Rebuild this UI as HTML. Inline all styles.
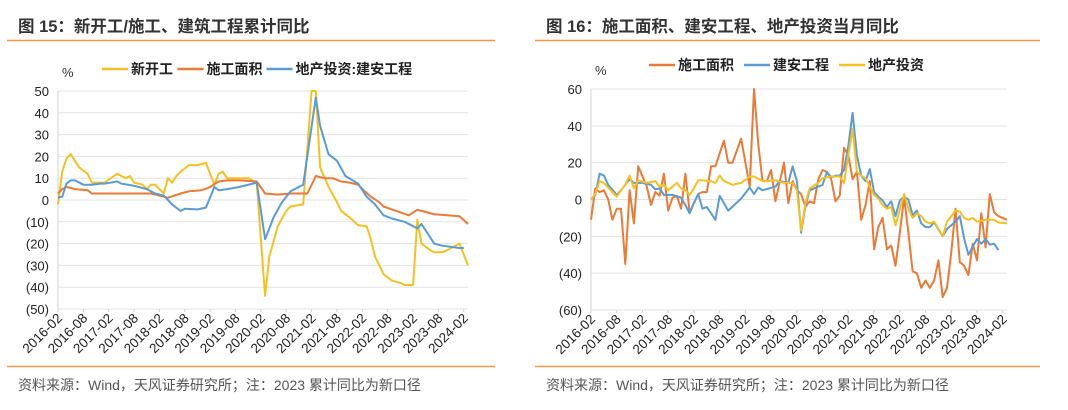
<!DOCTYPE html>
<html><head><meta charset="utf-8">
<style>
body{margin:0;width:1068px;height:410px;background:#fff;overflow:hidden;font-family:"Liberation Sans","Noto Sans CJK SC",sans-serif;}
svg{position:absolute;left:0;top:0;}
</style></head>
<body>
<svg id="main" width="1068" height="410" xmlns="http://www.w3.org/2000/svg">
<g>
<text x="18" y="32" font-size="16.5" font-weight="bold" fill="#333" font-family="Liberation Sans, Noto Sans CJK SC, sans-serif">图 15：新开工/施工、建筑工程累计同比</text>
<line x1="7" y1="40.5" x2="495" y2="40.5" stroke="#f39a4a" stroke-width="1.5"/>
<line x1="7" y1="366.5" x2="495" y2="366.5" stroke="#f39a4a" stroke-width="1.5"/>
<text x="18" y="390" font-size="14" fill="#555" font-family="Liberation Sans, Noto Sans CJK SC, sans-serif">资料来源：Wind，天风证券研究所；注：2023 累计同比为新口径</text>
</g>
<g>
<text x="546" y="32" font-size="16.5" font-weight="bold" fill="#333" font-family="Liberation Sans, Noto Sans CJK SC, sans-serif">图 16：施工面积、建安工程、地产投资当月同比</text>
<line x1="535" y1="40.5" x2="1040" y2="40.5" stroke="#f39a4a" stroke-width="1.5"/>
<line x1="535" y1="366.5" x2="1040" y2="366.5" stroke="#f39a4a" stroke-width="1.5"/>
<text x="546" y="390" font-size="14" fill="#555" font-family="Liberation Sans, Noto Sans CJK SC, sans-serif">资料来源：Wind，天风证券研究所；注：2023 累计同比为新口径</text>
</g>
<g id="leftChart"></g>
<g id="rightChart"></g>
</svg>
<script>
// ---- shared categories ----
const xTickLabels = ["2016-02","2016-08","2017-02","2017-08","2018-02","2018-08","2019-02","2019-08","2020-02","2020-08","2021-02","2021-08","2022-02","2022-08","2023-02","2023-08","2024-02"];
const totalMonths = 97;

// ---- left chart data (cumulative YoY) ----
const leftYTicks = [50,40,30,20,10,0,-10,-20,-30,-40,-50];
const leftNewStartMonths = [0,1,2,3,5,7,8,9,11,14,16,17,18,20,21,22,23,25,26,27,28,29,31,33,35,37,38,39,40,41,45,47,49,50,52,54,55,58,60,61,62,64,66,67,69,71,73,74,75,77,79,81,82,84,85,86,88,89,91,93,95,97];
const leftNewStartValues = [-2,13,19,21,15,12,8,8,8,12,10,11,8,7,5,7,7,3,10,8,11,13,16,16,17,7,12,13,10,10,10,8,-44,-26,-12,-5,-3,-2,50,50,15,6,-1,-5,-8,-11.5,-12,-18,-26,-34,-37,-38,-39,-39,-9,-20,-23,-24,-24,-22,-20,-30];
const leftAreaMonths = [0,1,2,4,7,8,10,14,18,22,25,26,29,31,34,36,38,40,43,47,49,52,55,58,59,61,63,65,67,69,71,72,74,76,77,80,83,85,87,89,92,95,97];
const leftAreaValues = [3,5,6,5,4.5,3,3,3,3,3,1.5,1,3,4,4.5,6,8.5,9,9,8.5,3,2.5,3,3,3,11,10,10,8.5,8,7,5,1.5,-1,-3,-5,-7,-4.5,-5.5,-6.5,-7,-7.5,-11];
const leftBuildMonths = [0,1,2,3,4,6,8,10,11,14,15,18,21,23,25,26,27,29,30,33,35,37,38,40,43,47,49,51,53,55,58,61,62,64,66,68,71,73,75,77,79,82,85,86,89,91,95,96];
const leftBuildValues = [1,1.5,7.5,9,9,7,7,7.5,7.5,8.5,7.5,6.5,5,3,2,0,-2,-5,-4,-4.3,-3.5,6,4.5,5,6,8,-18,-8,-1,4,7,47,34,21,18,11,7.5,1.5,-2,-7,-8.5,-10,-13,-11,-20,-21,-22,-22];

// ---- right chart data (monthly YoY) ----
const rightYTicks = [60,40,20,0,-20,-40,-60];
const rightAreaMonths = [0,1,2,3,4,5,6,7,8,9,10,11,13,14,15,16,17,18,19,20,21,22,23,25,26,27,28,29,31,32,33,35,37,38,39,40,41,42,43,45,46,47,48,49,50,51,52,53,54,55,56,57,58,59,60,61,62,63,64,65,66,67,68,69,70,71,72,73,74,75,76,77,78,79,80,81,82,83,84,85,86,87,88,89,90,91,92,93,94,95,97];
const rightAreaValues = [-11,6,4,5,0,-11,-5,-5,-35,5,-13,18,7,-3,4,2,14,-6,1,2,-5,14,-7,3,4,4,18,18,32,20,20,33,7,60,30,10,10,16,-1,20,-2,10,5,3,-4,-1,-2,11,16,15,11,-1,2,28,24,11,15,-11,-3,10,-27,-15,-10,-27,-25,-36,-18,1,-18,-39,-40,-48,-44,-48,-44,-33,-53,-48,-29,-5,-34,-36,-41,-24,-33,-7.5,-26,3,-7,-9,-11];
const rightBuildMonths = [0,1,2,3,4,6,7,9,10,12,14,15,16,17,19,21,22,23,24,25,26,27,28,29,30,32,35,37,38,39,40,43,44,46,47,48,49,50,51,53,54,55,56,57,58,59,60,61,62,63,64,65,66,67,68,69,70,71,72,73,74,75,76,77,78,79,80,82,83,85,86,87,88,89,90,91,92,93,94,95];
const rightBuildValues = [0,2.5,14,13,8,2.5,5,11,9,9,8,5.5,6,2.5,2.5,1,-3,-7.5,-2,3,-5,-4,-7.5,-11,2,-6,0.5,6.5,3,6.5,5,7,10,9,18,10,-18,-3.5,5,7,8,15,12,13,13,16,29,47,24,13,10,16.5,4,1.5,-0.5,-4,-1,-9,-0.5,1.5,0,-8.5,-6,-13,-15,-15,-12.5,-20,-16,-12,-9,-21,-30,-25.5,-21.5,-24,-21.5,-24.5,-24,-27.5];
const rightInvestMonths = [0,1,2,3,5,6,7,8,9,10,11,13,15,16,17,18,20,21,22,23,24,25,26,28,29,30,31,33,35,37,38,40,41,43,45,47,48,49,50,51,53,54,56,58,59,60,61,62,63,64,65,66,67,68,69,70,71,73,74,75,76,77,78,79,80,82,83,85,86,87,88,89,90,92,94,95,97];
const rightInvestValues = [0,3,10,9,4,1.5,5,8,13,6,10.5,9,10,7,8,5,9,6,5,2.5,6,10.5,10.5,10,9,13,10,8,9,12.5,12.5,10,10,10.5,9,9,5,-17,-2,6,9,11.5,12.5,12.5,9,24,38.5,15,13,11.5,7,2.5,0.5,-3,-5,-4,-14,3,-5,-10,-7.5,-9,-12,-13,-12,-20,-12,-6,-6.5,-10,-11,-10,-12,-11,-11,-12.5,-13];

const NS = "http://www.w3.org/2000/svg";
const FONT = "Liberation Sans, Noto Sans CJK SC, sans-serif";
function mk(tag, attrs, parent){
  const e = document.createElementNS(NS, tag);
  for (const k in attrs) e.setAttribute(k, attrs[k]);
  parent.appendChild(e);
  return e;
}
function fmt(v){ return v < 0 ? "(" + Math.abs(v) + ")" : String(v); }

function drawChart(g, cfg){
  const xScale = m => cfg.x0 + (cfg.x1 - cfg.x0) * m / totalMonths;
  const yScale = v => cfg.yTop + (cfg.yMax - v) / (cfg.yMax - cfg.yMin) * (cfg.yBot - cfg.yTop);
  cfg.yTicks.forEach(t => {
    const y = yScale(t);
    const gl = mk("line", {x1: cfg.x0, x2: cfg.x1, y1: y, y2: y, stroke: "#e3e3e3", "stroke-width": 1}, g);
    
    
    const tl = mk("text", {x: cfg.x0 - 9, y: y + 5, "text-anchor": "end", "font-size": 13, fill: "#222", "font-family": FONT}, g);
    tl.textContent = fmt(t);
    
    
  });
  const ax = mk("line", {x1: cfg.x0, x2: cfg.x0, y1: cfg.yTop, y2: cfg.yBot, stroke: "#d0d0d0", "stroke-width": 1}, g);
  
  
  const pc = mk("text", {x: cfg.x0 + 4, y: cfg.yTop - 14, "font-size": 13, fill: "#333", "font-family": FONT}, g);
  pc.textContent = "%";
  
  
  xTickLabels.forEach((lab, i) => {
    const x = xScale(i * 6);
    const tk = mk("line", {x1: x, x2: x, y1: cfg.yBot, y2: cfg.yBot + 3, stroke: "#d0d0d0"}, g);
    
    
    const ty = cfg.yBot + 10;
    const t = mk("text", {x: x + 5, y: ty, "text-anchor": "end", "font-size": 13.5, fill: "#222", "font-family": FONT,
      transform: "rotate(-45 " + (x + 5) + " " + ty + ")"}, g);
    t.textContent = lab;
    
    
  });
  cfg.series.forEach(s => {
    const pts = s.months.map((m, i) => xScale(m).toFixed(1) + "," + yScale(Math.max(cfg.yMin, Math.min(cfg.yMax, s.values[i]))).toFixed(1)).join(" ");
    const p = mk("polyline", {points: pts, fill: "none", stroke: s.color, "stroke-width": 2, "stroke-linejoin": "round"}, g);
    
    
  });
  let lx = cfg.legendX;
  cfg.series.forEach(s => {
    const ll = mk("line", {x1: lx, x2: lx + 26, y1: cfg.legendY - 5, y2: cfg.legendY - 5, stroke: s.color, "stroke-width": 2.5}, g);
    
    
    const lt = mk("text", {x: lx + 29, y: cfg.legendY, "font-size": 14, "font-weight": "bold", fill: "#222", "font-family": FONT}, g);
    lt.textContent = s.label;
    
    
    lx += 29 + s.label.length * cfg.legendCharW + 6;
  });
}

const YEL = "#f5c022", ORG = "#ea7a36", BLU = "#5b9bd5";
drawChart(document.getElementById("leftChart"), {
  x0: 58, x1: 468, yTop: 91, yBot: 309, yMax: 50, yMin: -50, yTicks: leftYTicks,
  legendX: 102, legendY: 74, legendCharW: 13.5,
  series: [
    {name: "new-start", label: "新开工", color: YEL, months: leftNewStartMonths, values: leftNewStartValues},
    {name: "construction-area", label: "施工面积", color: ORG, months: leftAreaMonths, values: leftAreaValues},
    {name: "building-install", label: "地产投资:建安工程", color: BLU, months: leftBuildMonths, values: leftBuildValues}
  ]
});
drawChart(document.getElementById("rightChart"), {
  x0: 591, x1: 1007, yTop: 89, yBot: 310, yMax: 60, yMin: -60, yTicks: rightYTicks,
  legendX: 649, legendY: 70, legendCharW: 15,
  series: [
    {name: "construction-area-monthly", label: "施工面积", color: ORG, months: rightAreaMonths, values: rightAreaValues},
    {name: "building-install-monthly", label: "建安工程", color: BLU, months: rightBuildMonths, values: rightBuildValues},
    {name: "property-investment-monthly", label: "地产投资", color: YEL, months: rightInvestMonths, values: rightInvestValues}
  ]
});
</script>
</body></html>
